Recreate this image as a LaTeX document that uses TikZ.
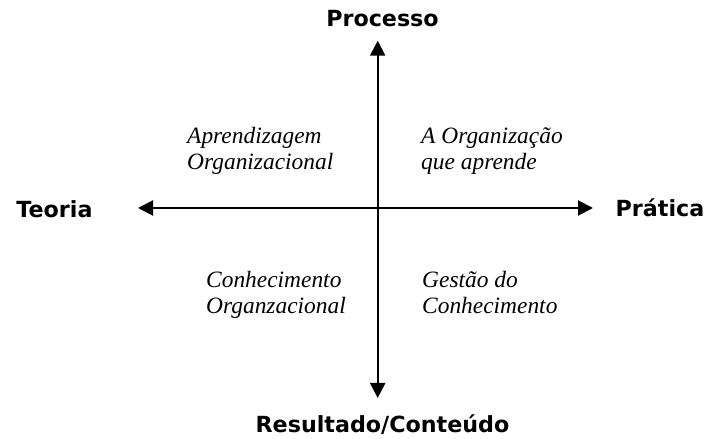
\documentclass[tikz,border=0pt]{standalone}
\usepackage{fontspec}
\setmainfont{Liberation Serif}
\setsansfont{DejaVu Sans}
\usepackage{tikz}
\usetikzlibrary{arrows.meta}
\tikzset{
  axis/.style={line width=2bp, {Triangle[length=15bp, width=15bp]}-{Triangle[length=15bp, width=15bp]}},
  pole/.style={inner sep=0pt, anchor=base, font=\sffamily\bfseries\fontsize{22.3}{26}\selectfont},
  quadrant/.style={inner sep=0pt, anchor=base west, align=left, font=\itshape\fontsize{23.5}{27}\selectfont},
}

\begin{document}
\begin{tikzpicture}[x=1bp, y=1bp]
  \useasboundingbox (0,0) rectangle (709,439);
  % axis ends
  \coordinate (top) at (377.7,398.3);
  \coordinate (bottom) at (377.7,41);
  \coordinate (left) at (138,231);
  \coordinate (right) at (593,231);
  % axes
  \draw[axis] (bottom) -- (top);
  \draw[axis] (left) -- (right);
  % poles
  \node[pole] (processo) at (382.5,412) {Processo};
  \node[pole] (resultado) at (382.5,6) {Resultado/Conteúdo};
  \node[pole] (teoria) at (54.5,221) {Teoria};
  \node[pole] (pratica) at (660,222) {Prática};
  % quadrants (base = last line)
  \node[quadrant] (aprend) at (187,269) {Aprendizagem\\Organizacional};
  \node[quadrant] (orgaprende) at (421,269) {A Organização\\que aprende};
  \node[quadrant] (conhec) at (206,125) {Conhecimento\\Organzacional};
  \node[quadrant] (gestao) at (422,125) {Gestão do\\Conhecimento};
\end{tikzpicture}
\end{document}
